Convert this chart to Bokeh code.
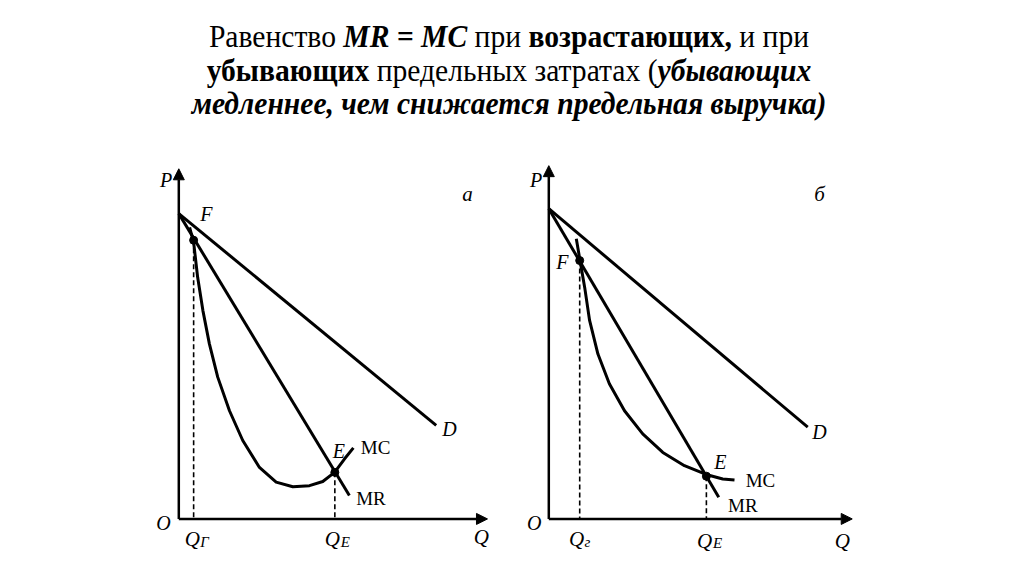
from bokeh.plotting import figure
from bokeh.models import Div, Arrow, NormalHead, Spacer
from bokeh.layouts import column, row
from bokeh.core.properties import value
from bokeh.embed import file_html
from bokeh.resources import INLINE

# ---------------- data (arbitrary units) ----------------
# panel a (rising MC)
d_a_q = [0.0, 8.33]
d_a_p = [8.72, 2.67]
mr_a_q = [0.0, 5.52]
mr_a_p = [8.72, 0.67]
mc_a_q = [0.35, 0.48, 0.61, 0.78, 0.99, 1.26, 1.64, 2.07, 2.61, 3.15, 3.69, 4.23, 4.66, 5.04, 5.36, 5.65]
mc_a_p = [8.33, 7.90, 6.90, 5.95, 5.00, 4.05, 3.09, 2.24, 1.47, 1.05, 0.92, 0.95, 1.07, 1.33, 1.71, 2.03]
f_a = (0.48, 7.96)
e_a = (5.05, 1.33)

# panel b (falling MC)
d_b_q = [0.0, 8.38]
d_b_p = [8.86, 2.62]
mr_b_q = [0.0, 5.50]
mr_b_p = [8.86, 0.62]
mc_b_q = [0.89, 1.02, 1.16, 1.32, 1.59, 1.96, 2.45, 3.04, 3.69, 4.39, 5.09, 5.63, 6.01]
mc_b_p = [8.00, 7.33, 6.62, 5.67, 4.71, 3.86, 3.09, 2.43, 1.90, 1.52, 1.27, 1.14, 1.11]
f_b = (1.00, 7.38)
e_b = (5.10, 1.22)

SERIF = value("Liberation Serif")

title_html = (
    '<div style="width:1008px;font-family:\'Liberation Serif\',serif;font-size:31px;line-height:33.5px;'
    'text-align:center;color:#000;padding-top:15px;transform:scaleX(0.955);transform-origin:50% 0;">'
    'Равенство <b><i>MR = MC</i></b> при <b>возрастающих,</b> и при<br>'
    '<b>убывающих</b> предельных затратах (<b><i>убывающих</i></b><br>'
    '<b><i>медленнее, чем снижается предельная выручка)</i></b></div>'
)
title = Div(text=title_html, width=1008, height=148)


def panel(dq, dp, mrq, mrp, mcq, mcp, f, e, labels, x_tip, y_tip):
    p = figure(width=360, height=400, x_range=(-1.272, 10.379), y_range=(-1.13, 10.294),
               output_backend="svg", toolbar_location=None, min_border=0,
               x_axis_location=None, y_axis_location=None)
    p.grid.visible = False
    p.outline_line_color = None
    p.background_fill_color = "white"
    p.border_fill_color = "white"

    # axes with arrows
    p.add_layout(Arrow(x_start=0, y_start=0, x_end=0, y_end=y_tip, line_width=2.5, line_color="black",
                       end=NormalHead(size=11, fill_color="black", line_color="black")))
    p.add_layout(Arrow(x_start=0, y_start=0, x_end=x_tip, y_end=0, line_width=2.5, line_color="black",
                       end=NormalHead(size=11, fill_color="black", line_color="black")))

    # dashed drop lines
    p.line([f[0], f[0]], [f[1], 0], line_dash="5 3", line_width=1.6, line_color="black")
    p.line([e[0], e[0]], [e[1], 0], line_dash="5 3", line_width=1.6, line_color="black")

    # curves
    p.line(dq, dp, line_width=3, line_color="black")
    p.line(mrq, mrp, line_width=3, line_color="black")
    p.line(mcq, mcp, line_width=3, line_color="black", line_join="round")

    # points
    p.scatter([f[0], e[0]], [f[1], e[1]], size=8, color="black")

    for (x, y, txt, size, style) in labels:
        p.text([x], [y], text=[txt], text_font=SERIF, text_font_size=size,
               text_font_style=style, text_align="center", text_baseline="middle",
               text_color="black")
    return p


labels_a = [
    (-0.41, 9.67, "P", "20px", "italic"),
    (-0.50, -0.11, "O", "20px", "italic"),
    (9.79, -0.53, "Q", "21px", "italic"),
    (0.89, 8.72, "F", "20px", "italic"),
    (5.18, 1.95, "E", "20px", "italic"),
    (8.76, 2.58, "D", "20px", "italic"),
    (6.37, 2.05, "MC", "19px", "normal"),
    (6.22, 0.58, "MR", "19px", "normal"),
    (9.34, 9.29, "а", "21px", "italic"),
    (0.44, -0.56, "Q", "21px", "italic"),
    (0.83, -0.66, "Г", "15px", "italic"),
    (4.97, -0.56, "Q", "21px", "italic"),
    (5.39, -0.66, "E", "15px", "italic"),
]
labels_b = [
    (-0.41, 9.67, "P", "20px", "italic"),
    (-0.47, -0.11, "O", "20px", "italic"),
    (9.50, -0.62, "Q", "21px", "italic"),
    (0.44, 7.33, "F", "20px", "italic"),
    (5.55, 1.62, "E", "20px", "italic"),
    (8.76, 2.47, "D", "20px", "italic"),
    (6.85, 1.09, "MC", "19px", "normal"),
    (6.28, 0.38, "MR", "19px", "normal"),
    (8.76, 9.29, "б", "21px", "italic"),
    (0.90, -0.56, "Q", "21px", "italic"),
    (1.25, -0.66, "г", "15px", "italic"),
    (5.04, -0.62, "Q", "21px", "italic"),
    (5.46, -0.70, "E", "15px", "italic"),
]

pa = panel(d_a_q, d_a_p, mr_a_q, mr_a_p, mc_a_q, mc_a_p, f_a, e_a, labels_a, 9.99, 10.0)
pb = panel(d_b_q, d_b_p, mr_b_q, mr_b_p, mc_b_q, mc_b_p, f_b, e_b, labels_b, 9.82, 10.09)

layout = column(title,
                row(Spacer(width=139, height=400), pa, Spacer(width=10, height=400), pb))

open("out.html", "w").write(file_html(layout, INLINE))
